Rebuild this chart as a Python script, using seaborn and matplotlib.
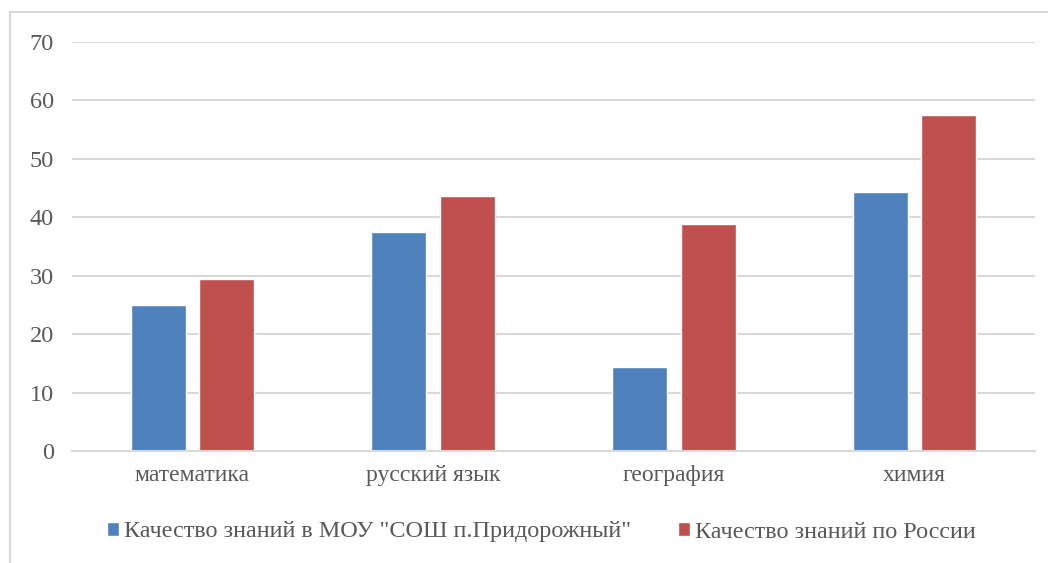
import matplotlib
matplotlib.use('Agg')
import matplotlib.pyplot as plt
import matplotlib.patches as mpatches
import pandas as pd
import seaborn as sns

# data
subjects = ['математика', 'русский язык', 'география', 'химия']
series_names = ['Качество знаний в МОУ "СОШ п.Придорожный"', 'Качество знаний по России']
school_values = [25.0, 37.5, 14.3, 44.4]
russia_values = [29.4, 43.7, 38.9, 57.5]
y_ticks = [0, 10, 20, 30, 40, 50, 60, 70]

df = pd.DataFrame({
    'subject': subjects * 2,
    'series': [series_names[0]] * len(subjects) + [series_names[1]] * len(subjects),
    'value': school_values + russia_values,
})

sns.set_style('white')
fam = ['Liberation Serif', 'DejaVu Serif']
plt.rcParams['font.family'] = fam

W, H = 1048, 563
fig = plt.figure(figsize=(W / 100, H / 100), dpi=100)

# light chart-area border (extends past right/bottom edges like the screenshot)
fig.patches.append(mpatches.Rectangle((10 / W, -0.1), 1.2, 1 - 12 / H + 0.1,
                                      transform=fig.transFigure, fill=False,
                                      edgecolor='#d9d9d9', linewidth=1.5))

ax = fig.add_axes([72 / W, 112 / H, (1035 - 72) / W, (521 - 112) / H])
sns.barplot(data=df, x='subject', y='value', hue='series',
            palette=['#4F81BD', '#C0504D'], width=0.57, gap=0.2,
            saturation=1, ax=ax)

ax.set_xlim(-0.5, 3.5)
ax.set_ylim(0, 70)
ax.set_yticks(y_ticks)
ax.yaxis.grid(True, color='#d9d9d9', linewidth=1.5)
ax.set_axisbelow(True)
for s in ['top', 'right', 'left']:
    ax.spines[s].set_visible(False)
ax.spines['bottom'].set_color('#d9d9d9')
ax.spines['bottom'].set_linewidth(1.5)
ax.tick_params(axis='y', length=0, pad=13, labelsize=17.5, labelcolor='#595959')
ax.tick_params(axis='x', length=0, pad=10, labelsize=17, labelcolor='#595959')
ax.set_xlabel('')
ax.set_ylabel('')

handles, labels = ax.get_legend_handles_labels()
ax.get_legend().remove()
leg = fig.legend(handles, labels, loc='center', bbox_to_anchor=(541 / W, 1 - 532 / H),
                 ncol=2, frameon=False, fontsize=17.4,
                 handlelength=0.5, handleheight=0.5, handletextpad=0.2,
                 columnspacing=1.95)
for t in leg.get_texts():
    t.set_color('#595959')

fig.savefig('out.png', dpi=100)
